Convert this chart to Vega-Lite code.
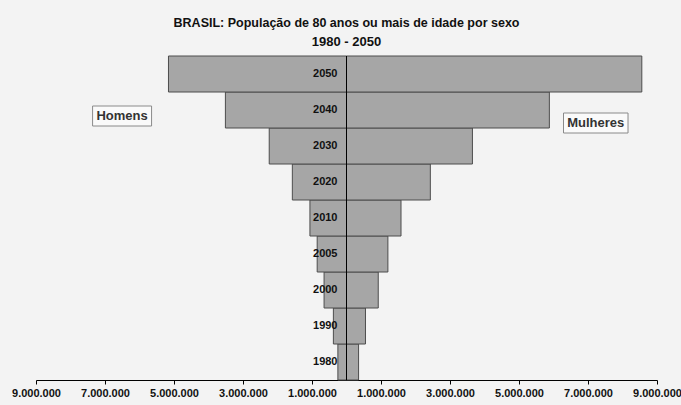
{
  "$schema": "https://vega.github.io/schema/vega-lite/v6.json",
  "width": 621,
  "height": 324,
  "autosize": {"type": "none"},
  "padding": {"left": 36, "top": 56, "right": 24, "bottom": 25},
  "background": "#f3f3f3",
  "title": {
    "text": "BRASIL: População de 80 anos ou mais de idade por sexo",
    "subtitle": "1980 - 2050",
    "anchor": "middle",
    "font": "Liberation Sans",
    "fontSize": 12.5,
    "fontWeight": "bold",
    "color": "#111",
    "subtitleFont": "Liberation Sans",
    "subtitleFontSize": 13,
    "subtitleFontWeight": "bold",
    "subtitleColor": "#111",
    "subtitlePadding": 6,
    "offset": 7
  },
  "config": {
    "view": {"stroke": null},
    "text": {"font": "Liberation Sans"}
  },
  "data": {
    "values": [
      {"ano": "1980", "sexo": "Homens", "populacao": -250000},
      {"ano": "1980", "sexo": "Mulheres", "populacao": 350000},
      {"ano": "1990", "sexo": "Homens", "populacao": -380000},
      {"ano": "1990", "sexo": "Mulheres", "populacao": 550000},
      {"ano": "2000", "sexo": "Homens", "populacao": -650000},
      {"ano": "2000", "sexo": "Mulheres", "populacao": 920000},
      {"ano": "2005", "sexo": "Homens", "populacao": -850000},
      {"ano": "2005", "sexo": "Mulheres", "populacao": 1200000},
      {"ano": "2010", "sexo": "Homens", "populacao": -1060000},
      {"ano": "2010", "sexo": "Mulheres", "populacao": 1580000},
      {"ano": "2020", "sexo": "Homens", "populacao": -1570000},
      {"ano": "2020", "sexo": "Mulheres", "populacao": 2430000},
      {"ano": "2030", "sexo": "Homens", "populacao": -2240000},
      {"ano": "2030", "sexo": "Mulheres", "populacao": 3650000},
      {"ano": "2040", "sexo": "Homens", "populacao": -3510000},
      {"ano": "2040", "sexo": "Mulheres", "populacao": 5880000},
      {"ano": "2050", "sexo": "Homens", "populacao": -5160000},
      {"ano": "2050", "sexo": "Mulheres", "populacao": 8560000}
    ]
  },
  "encoding": {
    "y": {
      "field": "ano",
      "type": "ordinal",
      "sort": "descending",
      "scale": {"paddingInner": 0, "paddingOuter": 0},
      "axis": null
    }
  },
  "layer": [
    {
      "mark": {"type": "bar", "fill": "#a6a6a6", "stroke": "#4d4d4d", "strokeWidth": 1},
      "encoding": {
        "x": {
          "field": "populacao",
          "type": "quantitative",
          "scale": {"domain": [-9000000, 9000000], "nice": false},
          "axis": {
            "title": null,
            "values": [-9000000, -7000000, -5000000, -3000000, -1000000, 1000000, 3000000, 5000000, 7000000, 9000000],
            "labelExpr": "replace(format(abs(datum.value), ','), /,/g, '.')",
            "grid": false,
            "domainColor": "#000",
            "tickColor": "#000",
            "tickSize": 4,
            "labelPadding": 3,
            "labelFont": "Liberation Sans",
            "labelFontSize": 11,
            "labelFontWeight": "bold",
            "labelColor": "#111",
            "labelFlush": false,
            "labelOverlap": false
          }
        }
      }
    },
    {
      "transform": [{"filter": "datum.sexo == 'Homens'"}],
      "mark": {"type": "text", "align": "right", "dx": -9, "fontSize": 11, "fontWeight": "bold", "color": "#111"},
      "encoding": {
        "x": {"datum": 0},
        "text": {"field": "ano"}
      }
    },
    {
      "mark": {"type": "rule", "color": "#000", "strokeWidth": 1},
      "encoding": {"x": {"datum": 0}, "y": null}
    },
    {
      "data": {"values": [{"rotulo": "Homens"}]},
      "layer": [
        {
          "mark": {"type": "bar", "fill": "#fafafa", "stroke": "#8a8a8a", "strokeWidth": 1, "height": 20, "yOffset": 6},
          "encoding": {"x": {"datum": -7360000}, "x2": {"datum": -5650000}, "y": {"datum": "2040"}}
        },
        {
          "mark": {"type": "text", "fontSize": 13, "fontWeight": "bold", "color": "#333", "dy": 6},
          "encoding": {"x": {"datum": -6505000}, "y": {"datum": "2040"}, "text": {"field": "rotulo"}}
        }
      ]
    },
    {
      "data": {"values": [{"rotulo": "Mulheres"}]},
      "layer": [
        {
          "mark": {"type": "bar", "fill": "#fafafa", "stroke": "#8a8a8a", "strokeWidth": 1, "height": 20, "yOffset": 13},
          "encoding": {"x": {"datum": 6290000}, "x2": {"datum": 8160000}, "y": {"datum": "2040"}}
        },
        {
          "mark": {"type": "text", "fontSize": 13, "fontWeight": "bold", "color": "#333", "dy": 13},
          "encoding": {"x": {"datum": 7225000}, "y": {"datum": "2040"}, "text": {"field": "rotulo"}}
        }
      ]
    }
  ]
}
